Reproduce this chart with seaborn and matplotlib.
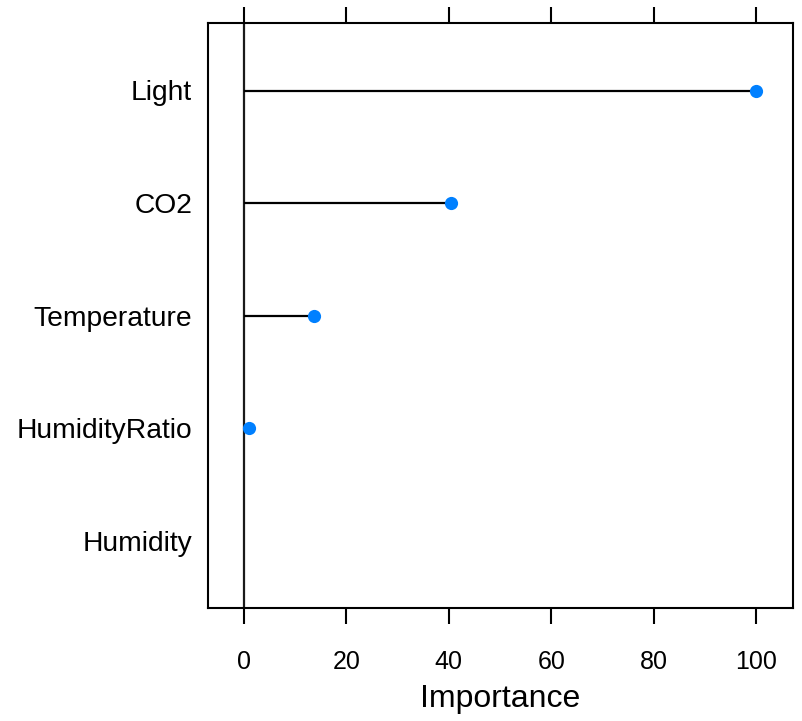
import matplotlib
matplotlib.use("Agg")
import matplotlib.pyplot as plt
import seaborn as sns
import pandas as pd

features = ["Light", "CO2", "Temperature", "HumidityRatio", "Humidity"]
importance = [100.0, 40.4, 13.7, 1.0, 0.0]
xticks = [0, 20, 40, 60, 80, 100]

df = pd.DataFrame({"feature": features, "importance": importance})

sns.set_style("white")
plt.rcParams["font.family"] = ["Liberation Sans", "DejaVu Sans"]
plt.rcParams["text.color"] = "black"
plt.rcParams["axes.labelcolor"] = "black"
plt.rcParams["xtick.color"] = "black"
plt.rcParams["ytick.color"] = "black"

fig = plt.figure(figsize=(8.02, 7.21), dpi=100)
ax = fig.add_axes([208 / 802, 1 - 608 / 721, 585 / 802, 585 / 721])

pos = list(range(len(features)))
# reference line at zero
ax.axvline(0, color="#1a1a1a", lw=1.6, zorder=1)
# segments
ax.hlines(pos, 0, df["importance"], color="black", lw=1.6, zorder=2)
# points (zero-importance not drawn)
sns.stripplot(data=df[df["importance"] > 0], x="importance", y="feature",
              order=features, jitter=False, color="#0080ff", size=9.5,
              linewidth=0, ax=ax, zorder=3)

ax.set_xlim(-7.03, 107.2)
ax.set_ylim(4.6, -0.6)
ax.set_xticks(xticks)
ax.set_xticklabels([str(t) for t in xticks])
ax.set_ylabel("")
ax.set_xlabel("Importance", fontsize=23, labelpad=7, color="black")

ax.tick_params(axis="x", direction="out", length=11.5, width=1.5, top=True,
               labeltop=False, bottom=True, labelsize=18, pad=19,
               color="black", labelcolor="black")
ax.tick_params(axis="y", left=False, labelsize=20.3, pad=8, labelcolor="black")

for s in ax.spines.values():
    s.set_visible(True)
    s.set_color("black")
    s.set_linewidth(1.5)

fig.savefig("out.png", dpi=100)
